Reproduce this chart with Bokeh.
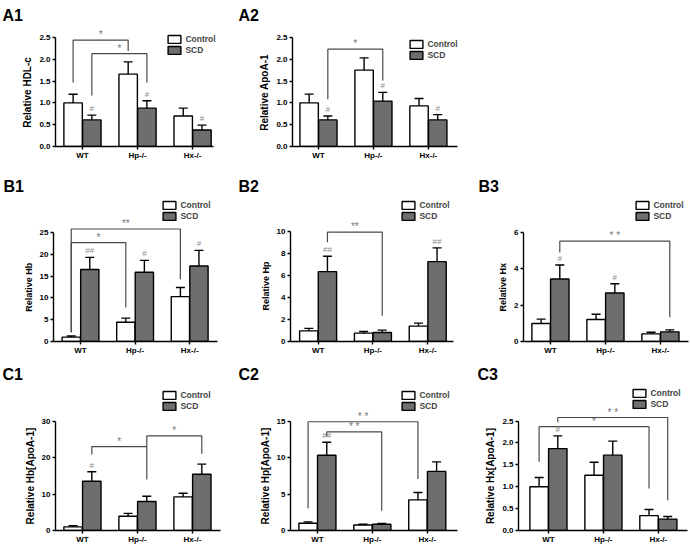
from bokeh.plotting import figure
from bokeh.layouts import column, row
from bokeh.models import Range1d, FixedTicker, NumeralTickFormatter, Legend, LegendItem
from bokeh.core.properties import value
from bokeh.embed import file_html
from bokeh.resources import INLINE

FONT = "Liberation Sans"
groups = ["WT", "Hp-/-", "Hx-/-"]
series = ["Control", "SCD"]

# ---- data ----
a1_ctrl = [1.00, 1.66, 0.70]; a1_ctrl_err = [0.20, 0.28, 0.18]
a1_scd = [0.61, 0.88, 0.38];  a1_scd_err = [0.11, 0.17, 0.11]
a1_marks = ["#", "#", "#"]

a2_ctrl = [1.00, 1.75, 0.93]; a2_ctrl_err = [0.20, 0.28, 0.17]
a2_scd = [0.61, 1.04, 0.61];  a2_scd_err = [0.09, 0.20, 0.12]
a2_marks = ["#", "#", "#"]

b1_ctrl = [1.0, 4.4, 10.3];   b1_ctrl_err = [0.25, 0.95, 2.1]
b1_scd = [16.5, 15.9, 17.3];  b1_scd_err = [2.8, 2.7, 3.6]
b1_marks = ["##", "#", "#"]

b2_ctrl = [0.97, 0.76, 1.40]; b2_ctrl_err = [0.22, 0.15, 0.27]
b2_scd = [6.35, 0.82, 7.26];  b2_scd_err = [1.40, 0.21, 1.25]
b2_marks = ["##", "", "##"]

b3_ctrl = [0.99, 1.21, 0.42]; b3_ctrl_err = [0.24, 0.29, 0.09]
b3_scd = [3.44, 2.67, 0.53];  b3_scd_err = [0.77, 0.51, 0.11]
b3_marks = ["#", "#", ""]

c1_ctrl = [1.0, 3.9, 9.2];    c1_ctrl_err = [0.3, 0.8, 1.0]
c1_scd = [13.5, 7.95, 15.4];  c1_scd_err = [2.6, 1.45, 2.8]
c1_marks = ["#", "", ""]

c2_ctrl = [1.0, 0.75, 4.2];   c2_ctrl_err = [0.18, 0.10, 1.0]
c2_scd = [10.3, 0.85, 8.1];   c2_scd_err = [1.8, 0.12, 1.3]
c2_marks = ["##", "", ""]

c3_ctrl = [1.00, 1.26, 0.34]; c3_ctrl_err = [0.21, 0.30, 0.14]
c3_scd = [1.87, 1.72, 0.26];  c3_scd_err = [0.29, 0.32, 0.06]
c3_marks = ["#", "", ""]

# significance brackets: (group1, series1, group2, series2, top, end1, end2, label)
a1_br = [(1, "c", 2, "c", 2.44, 1.47, 2.19, "*"), (1, "s", 2, "s", 2.13, 1.17, 1.47, "*")]
a2_br = [(1, "s", 2, "s", 2.23, 1.08, 1.51, "*")]
b1_br = [(1, "c", 3, "c", 25.8, 2.1, 14.3, "**"), (1, "c", 2, "c", 22.7, 2.1, 7.8, "*")]
b2_br = [(1, "s", 2, "s", 9.94, 9.03, 2.34, "**")]
b3_br = [(1, "s", 3, "s", 5.52, 4.9, 1.34, "* *")]
c1_br = [(1, "s", 2, "s", 23.0, 20.8, 14.0, "*"), (2, "s", 3, "s", 25.9, 23.0, 21.0, "*")]
c2_br = [(1, "c", 3, "c", 14.9, 3.05, 7.05, "* *"), (1, "s", 2, "s", 13.5, 12.9, 2.7, "* *")]
c3_br = [(1, "s", 3, "s", 2.58, 2.47, 0.69, "* *"), (1, "c", 3, "c", 2.37, 1.57, 0.96, "*")]

a_ticks = [0, 0.5, 1.0, 1.5, 2.0, 2.5]
b1_ticks = [0, 5, 10, 15, 20, 25]
b2_ticks = [0, 2, 4, 6, 8, 10]
b3_ticks = [0, 2, 4, 6]
c1_ticks = [0, 10, 20, 30]
c2_ticks = [0, 5, 10, 15]
c3_ticks = [0, 0.5, 1.0, 1.5, 2.0, 2.5]

OFF = 0.17
BW = 0.335
SCD_COLOR = "#6e6e6e"
LEG_H = 23
NBSP = "\u00a0"
FRAME_R = 229


def make_panel(name, ylabel, ticks, fmt, ctrl, ctrl_err, scd, scd_err, marks, brackets, g,
               ylab_size=10):
    cw, ch = g["w"], g["h"]
    fl, fr = g["fl"], g["fr"]
    ftop, tt, y0 = g["ftop"], g["tt"], g["y0"]
    ymax = ticks[-1]
    ppu = (y0 - tt) / ymax
    yend = ymax + (tt - ftop) / ppu
    x0r, x1r = g["xr"]
    ppx = (fr - fl) / (x1r - x0r)
    xend = x1r + (FRAME_R - fr) / ppx          # frame wider than the drawn x axis
    p = figure(width=cw, height=ch, x_range=Range1d(x0r, xend), y_range=Range1d(0, yend),
               output_backend="svg", toolbar_location=None, title=name,
               min_border_left=fl, min_border_right=cw - FRAME_R,
               min_border_top=ftop, min_border_bottom=ch - y0)
    p.grid.visible = False
    p.outline_line_color = None

    # panel letter as the figure title, pulled to the left edge of the cell
    p.title.align = "left"
    p.title.offset = g["tx"] - fl
    p.title.standoff = g["ts"]
    p.title.text_font = FONT
    p.title.text_font_size = "16px"
    p.title.text_font_style = "bold"
    p.title.text_color = "black"

    xc = [i + 1 - OFF for i in range(len(groups))]
    xs = [i + 1 + OFF for i in range(len(groups))]
    r1 = p.vbar(x=xc, top=ctrl, width=BW, fill_color="white", line_color="black", line_width=1.4)
    r2 = p.vbar(x=xs, top=scd, width=BW, fill_color=SCD_COLOR, line_color="black", line_width=1.4)
    cap = 4.5 / ppx
    for xx, top, err in ((xc, ctrl, ctrl_err), (xs, scd, scd_err)):
        hi = [t + e for t, e in zip(top, err)]
        p.segment(x0=xx, y0=top, x1=xx, y1=hi, line_color="black", line_width=1.4)
        p.segment(x0=[x - cap for x in xx], y0=hi, x1=[x + cap for x in xx], y1=hi,
                  line_color="black", line_width=1.4)

    mx = [x for x, m in zip(xs, marks) if m]
    my = [t + e for t, e, m in zip(scd, scd_err, marks) if m]
    mt = [m for m in marks if m]
    if mt:
        p.text(x=mx, y=my, text=mt, text_font=value(FONT), text_font_size="8px",
               text_color="#8a8a8a", text_align="center", text_baseline="bottom", y_offset=-2)

    bxs, bys, tx, ty, tt_ = [], [], [], [], []
    for g1, s1, g2, s2, top, e1, e2, lab in brackets:
        xa = g1 + (-OFF if s1 == "c" else OFF)
        xb = g2 + (-OFF if s2 == "c" else OFF)
        bxs.append([xa, xa, xb, xb])
        bys.append([e1, top, top, e2])
        tx.append((xa + xb) / 2)
        ty.append(top)
        tt_.append(lab)
    p.multi_line(xs=bxs, ys=bys, line_color="#4a4a4a", line_width=1.2)
    p.text(x=tx, y=ty, text=tt_, text_font=value(FONT), text_font_size="10px",
           text_color="#777777", text_align="center", text_baseline="bottom", y_offset=0)

    # axes
    p.yaxis.bounds = (0, ymax)
    p.xaxis.bounds = (x0r, x1r)
    p.yaxis.ticker = FixedTicker(ticks=ticks)
    if fmt:
        p.yaxis.formatter = NumeralTickFormatter(format=fmt)
    p.xaxis.ticker = FixedTicker(ticks=[1, 2, 3])
    p.xaxis.major_label_overrides = {1: groups[0], 2: groups[1], 3: groups[2]}
    # centre the label on the drawn axis line rather than on the taller frame
    shift = (tt - ftop) / 2.0
    pad = int(round(2 * shift / (0.278 * ylab_size)))
    p.yaxis.axis_label = ylabel + NBSP * pad
    for ax in (p.xaxis[0], p.yaxis[0]):
        ax.axis_line_width = 1.4
        ax.major_tick_line_width = 1.4
        ax.major_tick_out = 3
        ax.major_tick_in = 0
        ax.minor_tick_line_color = None
        ax.major_label_standoff = 2
        ax.major_label_text_font = FONT
        ax.major_label_text_font_size = "8px"
        ax.major_label_text_font_style = "bold"
        ax.major_label_text_color = "black"
    p.xaxis.major_label_standoff = 1
    p.yaxis.axis_label_standoff = 3
    p.yaxis.axis_label_text_font = FONT
    p.yaxis.axis_label_text_font_size = f"{ylab_size}px"
    p.yaxis.axis_label_text_font_style = "bold"
    p.yaxis.axis_label_text_color = "black"

    # legend (location = offset of its lower-left corner from the frame's lower-left corner)
    gw, gh = 16, 10
    lx = g["lbox"] - 0.1 * gw - fl
    ltop = g["lctr"] - 5.5
    ly = y0 - (ltop + LEG_H)
    legend = Legend(items=[LegendItem(label=series[0], renderers=[r1]),
                           LegendItem(label=series[1], renderers=[r2])],
                    location=(lx, ly), glyph_width=gw, glyph_height=gh,
                    label_text_font=FONT, label_text_font_size="8.5px",
                    label_text_font_style="bold", label_standoff=3, spacing=1,
                    padding=0, margin=0, border_line_color=None,
                    background_fill_alpha=0, label_height=8)
    p.add_layout(legend)
    return p


# geometry of each cell (pixels, local to the cell); fr = right end of the drawn x axis
gA1 = dict(w=230, h=165, fl=55, fr=213, ftop=24, tt=37, y0=146, xr=(0.51, 3.38), lbox=168, lctr=37, tx=2, ts=2)
gA2 = dict(w=230, h=165, fl=62, fr=227, ftop=24, tt=37, y0=147, xr=(0.527, 3.53), lbox=180, lctr=43, tx=8, ts=2)
gB1 = dict(w=230, h=192, fl=53, fr=217, ftop=30, tt=67, y0=176, xr=(0.505, 3.51), lbox=163, lctr=38, tx=3, ts=2)
gB2 = dict(w=230, h=192, fl=60, fr=223, ftop=30, tt=66, y0=176, xr=(0.496, 3.47), lbox=172, lctr=38, tx=8, ts=2)
gB3 = dict(w=230, h=192, fl=63, fr=228, ftop=30, tt=67, y0=176, xr=(0.51, 3.51), lbox=176, lctr=38, tx=18, ts=2)
gC1 = dict(w=230, h=189, fl=55, fr=220, ftop=28, tt=64, y0=175, xr=(0.51, 3.51), lbox=163, lctr=38, tx=2, ts=6)
gC2 = dict(w=230, h=189, fl=60, fr=227, ftop=28, tt=64, y0=175, xr=(0.51, 3.55), lbox=172, lctr=38, tx=8, ts=6)
gC3 = dict(w=230, h=189, fl=58, fr=227, ftop=28, tt=64, y0=175, xr=(0.455, 3.53), lbox=173, lctr=36, tx=17, ts=6)

pA1 = make_panel("A1", "Relative HDL-c", a_ticks, "0.0", a1_ctrl, a1_ctrl_err, a1_scd, a1_scd_err, a1_marks, a1_br, gA1)
pA2 = make_panel("A2", "Relative ApoA-1", a_ticks, "0.0", a2_ctrl, a2_ctrl_err, a2_scd, a2_scd_err, a2_marks, a2_br, gA2)
pB1 = make_panel("B1", "Relative Hb", b1_ticks, None, b1_ctrl, b1_ctrl_err, b1_scd, b1_scd_err, b1_marks, b1_br, gB1, 9)
pB2 = make_panel("B2", "Relative Hp", b2_ticks, None, b2_ctrl, b2_ctrl_err, b2_scd, b2_scd_err, b2_marks, b2_br, gB2, 9)
pB3 = make_panel("B3", "Relative Hx", b3_ticks, None, b3_ctrl, b3_ctrl_err, b3_scd, b3_scd_err, b3_marks, b3_br, gB3, 9)
pC1 = make_panel("C1", "Relative Hb[ApoA-1]", c1_ticks, None, c1_ctrl, c1_ctrl_err, c1_scd, c1_scd_err, c1_marks, c1_br, gC1)
pC2 = make_panel("C2", "Relative Hp[ApoA-1]", c2_ticks, None, c2_ctrl, c2_ctrl_err, c2_scd, c2_scd_err, c2_marks, c2_br, gC2)
pC3 = make_panel("C3", "Relative Hx[ApoA-1]", c3_ticks, "0.0", c3_ctrl, c3_ctrl_err, c3_scd, c3_scd_err, c3_marks, c3_br, gC3)

layout = column(row(pA1, pA2), row(pB1, pB2, pB3), row(pC1, pC2, pC3))
open("out.html", "w").write(file_html(layout, INLINE))
